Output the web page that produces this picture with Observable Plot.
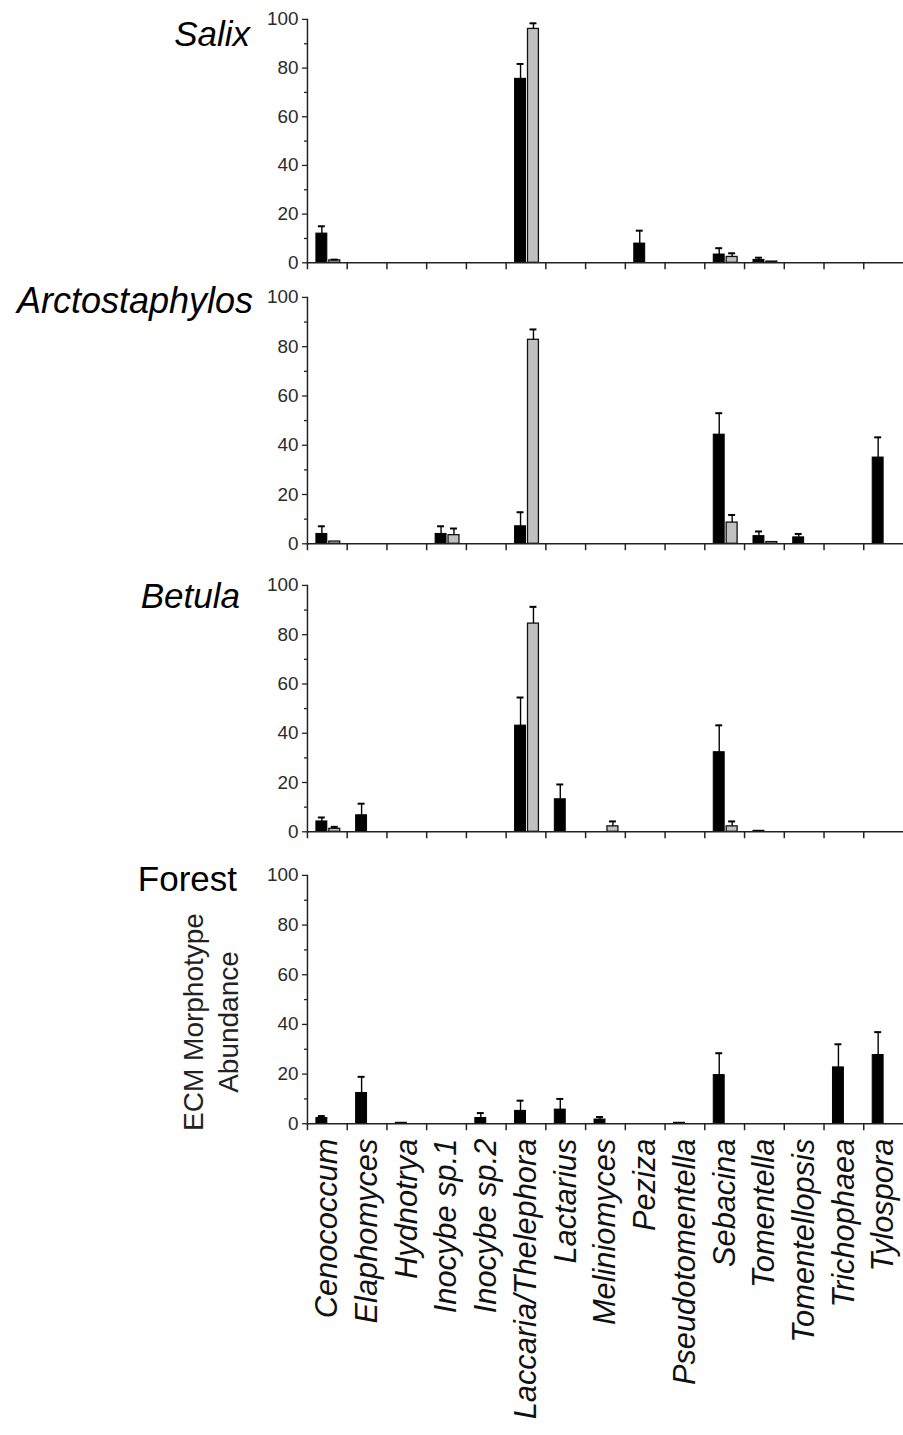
<!DOCTYPE html>
<html><head><meta charset="utf-8">
<script src="https://cdn.jsdelivr.net/npm/d3@7"></script>
<script src="https://cdn.jsdelivr.net/npm/@observablehq/plot@0.6"></script>
<style>
html,body{margin:0;padding:0;background:#fff;overflow:hidden;width:903px;height:1435px;}
#wrap{position:relative;width:903px;height:1435px;overflow:hidden;font-family:"Liberation Sans",Arial,sans-serif;}
.panel{position:absolute;left:0;}
.title{position:absolute;color:#000;text-align:right;white-space:nowrap;line-height:1;}
.ylab{position:absolute;width:300px;height:70px;text-align:center;font-size:28px;line-height:35px;color:#222;transform:rotate(-90deg);transform-origin:50% 50%;}
</style></head><body><div id="wrap"></div>
<script>
const genera = ["Cenococcum","Elaphomyces","Hydnotrya","Inocybe sp.1","Inocybe sp.2","Laccaria/Thelephora","Lactarius","Meliniomyces","Peziza","Pseudotomentella","Sebacina","Tomentella","Tomentellopsis","Trichophaea","Tylospora"];

const salixBlack    = [12.0,0,0,0,0,75.6,0,0,7.9,0,3.4,1.2,0,0,0];
const salixBlackErr = [3.0,0,0,0,0,6.1,0,0,5.3,0,2.6,0.9,0,0,0];
const salixGray     = [1.0,0,0,0,0,96.1,0,0,0,0,2.4,0.5,0,0,0];
const salixGrayErr  = [0.3,0,0,0,0,2.3,0,0,0,0,1.5,0,0,0,0];

const arctoBlack    = [4.0,0,0,4.0,0,7.1,0,0,0,0,44.3,3.1,2.6,0,35.0];
const arctoBlackErr = [3.1,0,0,3.1,0,5.7,0,0,0,0,8.7,1.9,1.4,0,8.2];
const arctoGray     = [0.9,0,0,3.5,0,82.8,0,0,0,0,8.6,0.7,0,0,0];
const arctoGrayErr  = [0,0,0,2.7,0,4.2,0,0,0,0,3.1,0,0,0,0];

const betulaBlack    = [4.2,6.7,0,0,0,43.1,13.2,0,0,0,32.3,0.4,0,0,0];
const betulaBlackErr = [1.6,4.7,0,0,0,11.4,6.0,0,0,0,10.9,0,0,0,0];
const betulaGray     = [1.2,0,0,0,0,84.5,0,2.2,0,0,2.2,0,0,0,0];
const betulaGrayErr  = [0.8,0,0,0,0,6.8,0,2.0,0,0,2.0,0,0,0,0];

const forestBlack    = [2.3,12.4,0.4,0,2.3,5.2,5.7,1.7,0,0.4,19.6,0,0,22.7,27.7];
const forestBlackErr = [0.8,6.5,0,0,2.0,4.1,4.3,1.0,0,0,8.8,0,0,9.3,9.2];
const forestGray     = [0,0,0,0,0,0,0,0,0,0,0,0,0,0,0];
const forestGrayErr  = [0,0,0,0,0,0,0,0,0,0,0,0,0,0,0];

const panelTitles = ["Salix","Arctostaphylos","Betula","Forest"];
const yTicks = [0,20,40,60,80,100];
const yMinorTicks = [10,30,50,70,90];
const yAxisLabel = ["ECM Morphotype","Abundance"];

const rows = (vals, errs) => genera.map((g,i) => ({genus:g, value:vals[i], err:errs[i]}));

const wrap = document.getElementById("wrap");

function panel(black, gray, cfg) {
  const b = black.filter(d => d.value > 0), g = gray.filter(d => d.value > 0);
  const be = black.filter(d => d.err > 0), ge = gray.filter(d => d.err > 0);
  const marks = [
    Plot.barY(b, {x:"genus", y:"value", fill:"#000", stroke:"#000", strokeWidth:1, insetLeft:9, insetRight:20}),
    Plot.barY(g, {x:"genus", y:"value", fill:"#c0c0c0", stroke:"#111", strokeWidth:1.3, insetLeft:22, insetRight:7}),
    Plot.ruleX(be, {x:"genus", y1:"value", y2:d => d.value + d.err, dx:-5.5, stroke:"#000", strokeWidth:1.4}),
    Plot.tickY(be, {x:"genus", y:d => d.value + d.err, insetLeft:11, insetRight:22, stroke:"#000", strokeWidth:2}),
    Plot.ruleX(ge, {x:"genus", y1:"value", y2:d => d.value + d.err, dx:7.5, stroke:"#000", strokeWidth:1.4}),
    Plot.tickY(ge, {x:"genus", y:d => d.value + d.err, insetLeft:24, insetRight:9, stroke:"#000", strokeWidth:2}),
    Plot.frame({anchor:"left", stroke:"#222", strokeWidth:1.5}),
    Plot.frame({anchor:"bottom", stroke:"#222", strokeWidth:1.5}),
    Plot.axisY({ticks:yTicks, anchor:"left", tickSize:5, tickPadding:4, fontSize:19, stroke:"#222", strokeWidth:1.3, fill:"#2a2a2a"}),
    Plot.axisY({ticks:yMinorTicks, anchor:"left", tickSize:3, tickFormat:() => "", stroke:"#222", strokeWidth:1.3}),
    Plot.axisX({anchor:"bottom", tickSize:7, tickFormat:() => "", dx:-20, stroke:"#222", strokeWidth:1.5})
  ];
  if (cfg.labels) {
    marks.push(Plot.text(genera, {x:d => d, frameAnchor:"bottom", rotate:-90, textAnchor:"end", lineAnchor:"middle", dy:15, fontSize:31, fontStyle:"italic", fill:"#111"}));
  }
  const svg = Plot.plot({
    width: 909,
    height: cfg.height,
    marginLeft: 309, marginRight: 0, marginTop: 12, marginBottom: cfg.marginBottom,
    x: {domain: genera, padding: 0, label: null, axis: null},
    y: {domain: [0,100], label: null, axis: null},
    style: {fontFamily: '"Liberation Sans", Arial, sans-serif', color:"#333", background:"transparent", overflow:"visible"},
    marks
  });
  const div = document.createElement("div");
  div.className = "panel";
  div.style.top = cfg.top + "px";
  div.appendChild(svg);
  wrap.appendChild(div);
}

panel(rows(salixBlack, salixBlackErr), rows(salixGray, salixGrayErr), {top:7, height:12+245+12, marginBottom:12});
panel(rows(arctoBlack, arctoBlackErr), rows(arctoGray, arctoGrayErr), {top:285, height:12+248+12, marginBottom:12});
panel(rows(betulaBlack, betulaBlackErr), rows(betulaGray, betulaGrayErr), {top:573, height:12+248+12, marginBottom:12});
panel(rows(forestBlack, forestBlackErr), rows(forestGray, forestGrayErr), {top:863, height:12+250+310, marginBottom:310, labels:true});

const titleCfg = [
  {right:250, top:16, size:35, italic:true},
  {right:253, top:283, size:36, italic:true},
  {right:240, top:578, size:35, italic:true},
  {right:237, top:861, size:35, italic:false}
];
panelTitles.forEach((t,i) => {
  const c = titleCfg[i];
  const d = document.createElement("div");
  d.className = "title";
  d.textContent = t;
  d.style.right = (903 - c.right) + "px";
  d.style.top = c.top + "px";
  d.style.fontSize = c.size + "px";
  d.style.fontStyle = c.italic ? "italic" : "normal";
  wrap.appendChild(d);
});

const yl = document.createElement("div");
yl.className = "ylab";
yl.style.left = (211 - 150) + "px";
yl.style.top = (1022 - 35) + "px";
yl.innerHTML = yAxisLabel.join("<br>");
wrap.appendChild(yl);
</script></body></html>
